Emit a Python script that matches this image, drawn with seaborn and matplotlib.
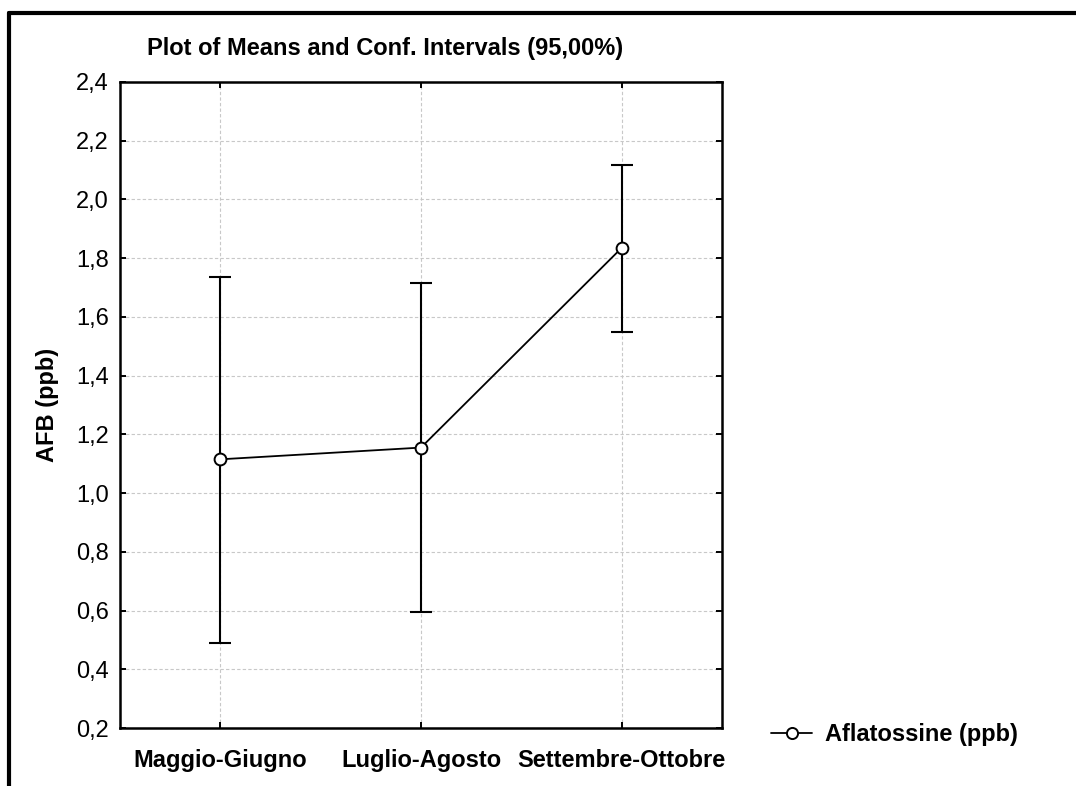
import matplotlib
matplotlib.use("Agg")
import matplotlib.pyplot as plt
from matplotlib.lines import Line2D
import seaborn as sns
import pandas as pd

# Bimonthly periods and the mean aflatoxin level with its 95% confidence interval
periods = ["Maggio-Giugno", "Luglio-Agosto", "Settembre-Ottobre"]
means = [1.115, 1.155, 1.835]
ci_low = [0.49, 0.595, 1.550]
ci_high = [1.735, 1.715, 2.117]

y_ticks = [0.2, 0.4, 0.6, 0.8, 1.0, 1.2, 1.4, 1.6, 1.8, 2.0, 2.2, 2.4]
y_tick_labels = [f"{v:.1f}".replace(".", ",") for v in y_ticks]

sns.set_theme(style="white")
plt.rcParams["font.family"] = ["Liberation Sans", "DejaVu Sans"]
plt.rcParams.update({"text.color": "black", "axes.labelcolor": "black",
                     "xtick.color": "black", "ytick.color": "black"})

df = pd.DataFrame({"pos": range(len(periods)), "periodo": periods, "media": means})

fig = plt.figure(figsize=(10.76, 7.86), dpi=100)
ax = fig.add_axes([120 / 1076, 1 - 728 / 786, 602 / 1076, 646 / 786])

# Confidence interval whiskers
yerr = [[m - lo for m, lo in zip(means, ci_low)], [hi - m for m, hi in zip(means, ci_high)]]
ax.errorbar(df["pos"], df["media"], yerr=yerr, fmt="none", ecolor="black",
            elinewidth=1.5, capsize=7.8, capthick=1.5, zorder=3)

# Means joined by a line, open circle markers
sns.lineplot(data=df, x="pos", y="media", ax=ax, color="black", linewidth=1.3,
             marker="o", markersize=8.5, markerfacecolor="white",
             markeredgecolor="black", markeredgewidth=1.4, zorder=4,
             label="Aflatossine (ppb)", legend=False)

ax.set_xlim(-0.5, len(periods) - 0.5)
ax.set_ylim(0.2, 2.4)
ax.set_xticks(range(len(periods)))
ax.set_xticklabels(periods, fontsize=17, fontweight="bold")
ax.set_yticks(y_ticks)
ax.set_yticklabels(y_tick_labels, fontsize=17)
ax.set_xlabel("")
ax.set_ylabel("AFB (ppb)", fontsize=17, fontweight="bold", labelpad=12)

ax.grid(True, color="#c8c8c8", linestyle=(0, (3, 2)), linewidth=0.8)
ax.set_axisbelow(True)
for s in ax.spines.values():
    s.set_visible(True)
    s.set_color("black")
    s.set_linewidth(1.8)
ax.tick_params(axis="both", which="both", direction="in", length=4, width=1.4,
               color="black", top=True, right=True, bottom=True, left=True,
               labeltop=False, labelright=False)
ax.tick_params(axis="x", pad=15)
ax.tick_params(axis="y", pad=8)

fig.text(147 / 1076, 1 - 48 / 786, "Plot of Means and Conf. Intervals (95,00%)",
         fontsize=17, fontweight="bold", ha="left", va="center")

# Legend
handle = Line2D([], [], color="black", linewidth=1.3, marker="o", markersize=8,
                markerfacecolor="white", markeredgecolor="black", markeredgewidth=1.4)
fig.legend([handle], ["Aflatossine (ppb)"], loc="center left",
           bbox_to_anchor=(750 / 1076, 1 - 735 / 786), frameon=False,
           prop={"size": 17, "weight": "bold"}, handlelength=1.74, handletextpad=0.55)

# Outer frame (top and left edges)
fig.add_artist(Line2D([9 / 1076, 1.0], [1 - 12.5 / 786, 1 - 12.5 / 786],
                      color="black", linewidth=3.0, transform=fig.transFigure))
fig.add_artist(Line2D([9 / 1076, 9 / 1076], [0.0, 1 - 12.5 / 786],
                      color="black", linewidth=3.0, transform=fig.transFigure))

fig.savefig("out.png", dpi=100, facecolor="white")
